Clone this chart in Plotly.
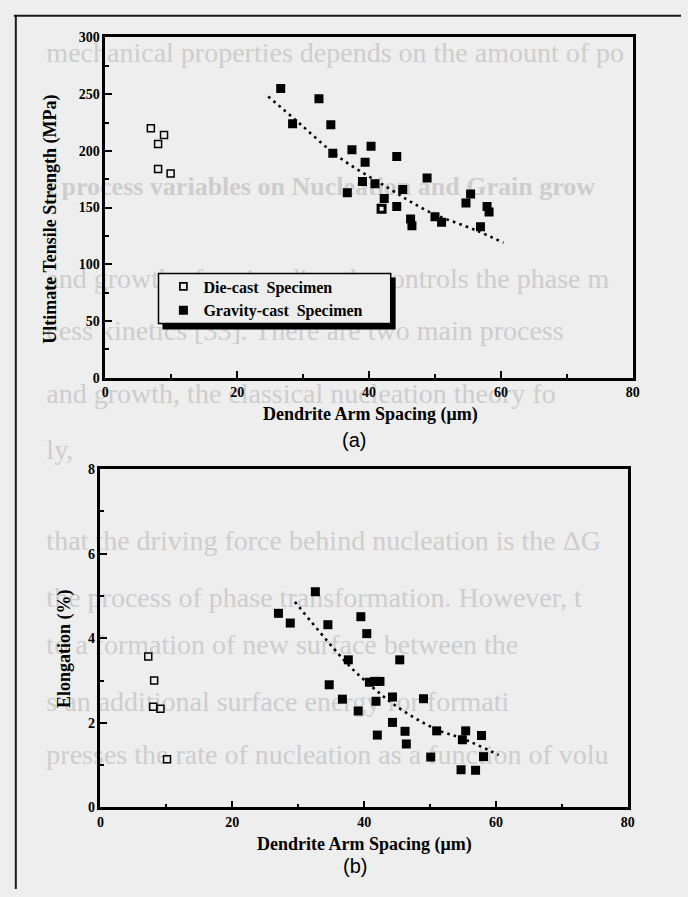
import plotly.graph_objects as go

W, H = 688, 897

# ---- (a) Ultimate tensile strength vs dendrite arm spacing ----
die_das_a = [6.9, 8.9, 8.0, 8.0, 9.9, 41.9]
die_uts = [220, 214, 206, 184, 180, 149]
die_edge_a = [1.5, 1.5, 1.5, 1.5, 1.5, 3.0]

grav_das_a = [26.6, 28.4, 32.4, 34.2, 34.5, 37.4, 40.3, 39.4, 44.2, 39.0, 40.9, 36.7, 42.3,
              45.1, 44.2, 48.8, 46.3, 46.5, 50.0, 51.0, 55.4, 54.7, 57.9, 58.2, 56.9]
grav_uts = [255, 224, 246, 223, 198, 201, 204, 190, 195, 173, 171, 163, 158,
            166, 151, 176, 140, 134, 142, 137, 162, 154, 151, 146, 133]

fit_das_a = [24.7, 29.3, 35.3, 42.7, 49.2, 56.2, 60.4]
fit_uts = [248, 225, 195, 168, 146, 130, 119]

# ---- (b) Elongation vs dendrite arm spacing ----
die_das_b = [7.25, 8.15, 8.0, 9.1, 10.1]
die_elong = [3.57, 3.0, 2.38, 2.33, 1.14]

grav_das_b = [27.0, 28.8, 32.6, 34.5, 39.5, 40.4, 37.6, 45.4, 34.7, 40.8, 41.6, 42.4, 36.7, 41.8,
              44.3, 49.0, 39.1, 44.3, 46.2, 42.0, 46.4, 51.0, 55.4, 54.9, 57.8, 50.1, 58.1, 54.7, 56.9]
grav_elong = [4.59, 4.36, 5.10, 4.32, 4.51, 4.11, 3.49, 3.49, 2.90, 2.96, 2.98, 2.98, 2.56, 2.51,
              2.61, 2.57, 2.28, 2.01, 1.80, 1.71, 1.50, 1.81, 1.81, 1.60, 1.70, 1.19, 1.20, 0.89, 0.88]

fit_das_b = [29.5, 37.5, 41.0, 45.0, 51.0, 54.9, 60.4]
fit_elong = [4.86, 3.39, 2.88, 2.38, 1.84, 1.63, 1.24]

x_ticks = [0, 20, 40, 60, 80]
uts_ticks = [0, 50, 100, 150, 200, 250, 300]
elong_ticks = [0, 2, 4, 6, 8]

# faint text from the facing page showing through the scan: (y, text, bold, size)
page_lines = [
    (43, "mechanical properties depends on the amount of po", False, 28),
    (180, "t process variables on Nucleation and Grain grow", True, 26),
    (273, "and growth of grains directly controls the phase m", False, 28),
    (326, "cess kinetics [33]. There are two main process", False, 28),
    (390, "and growth, the classical nucleation theory fo", False, 28),
    (447, "ly,", False, 28),
    (540, "that the driving force behind nucleation is the \u0394G", False, 28),
    (597, "the process of phase transformation. However, t", False, 28),
    (645, "to a formation of new surface between the", False, 28),
    (703, "s an additional surface energy for formati", False, 28),
    (757, "presses the rate of nucleation as a function of volu", False, 28),
]

SERIF = "Liberation Serif, Times New Roman, serif"
BG = "#eeeeee"


def px(x):
    return x / W


def py(y):
    return 1 - y / H


fig = go.Figure()

# panel (a)
fig.add_trace(go.Scatter(x=fit_das_a, y=fit_uts, mode="lines", line_shape="spline",
                         line=dict(color="black", width=2.6, dash="2.6px,4.2px"),
                         showlegend=False, xaxis="x", yaxis="y", hoverinfo="skip"))
fig.add_trace(go.Scatter(x=die_das_a, y=die_uts, mode="markers", name="Die-cast  Specimen",
                         marker=dict(symbol="square-open", size=7, color="black",
                                     line=dict(color="black", width=die_edge_a)),
                         xaxis="x", yaxis="y"))
fig.add_trace(go.Scatter(x=grav_das_a, y=grav_uts, mode="markers", name="Gravity-cast  Specimen",
                         marker=dict(symbol="square", size=9, color="black", line=dict(width=0)),
                         xaxis="x", yaxis="y"))

# panel (b)
fig.add_trace(go.Scatter(x=fit_das_b, y=fit_elong, mode="lines", line_shape="spline",
                         line=dict(color="black", width=2.6, dash="2.6px,4.2px"),
                         showlegend=False, xaxis="x2", yaxis="y2", hoverinfo="skip"))
fig.add_trace(go.Scatter(x=die_das_b, y=die_elong, mode="markers", showlegend=False,
                         marker=dict(symbol="square-open", size=7, color="black",
                                     line=dict(color="black", width=1.5)),
                         xaxis="x2", yaxis="y2"))
fig.add_trace(go.Scatter(x=grav_das_b, y=grav_elong, mode="markers", showlegend=False,
                         marker=dict(symbol="square", size=9, color="black", line=dict(width=0)),
                         xaxis="x2", yaxis="y2"))

tick_font = dict(family=SERIF, size=14, color="black", weight="bold")


def axis_style(**kw):
    base = dict(showline=True, mirror=True, linecolor="black", linewidth=2.5,
                ticks="inside", ticklen=7, tickwidth=2, tickcolor="black",
                showgrid=False, zeroline=False, tickfont=tick_font, fixedrange=True)
    base.update(kw)
    return base


fig.update_layout(
    width=W, height=H,
    margin=dict(l=0, r=0, t=0, b=0),
    paper_bgcolor=BG, plot_bgcolor="rgba(0,0,0,0)",
    xaxis=axis_style(domain=[px(103), px(639)], range=[0, 80], tickvals=x_ticks,
                     minor=dict(dtick=10, ticks="inside", ticklen=4, tickwidth=1.5, tickcolor="black"),
                     anchor="y"),
    yaxis=axis_style(domain=[py(377), py(31)], range=[0, 300], tickvals=uts_ticks,
                     minor=dict(dtick=25, ticks="inside", ticklen=4, tickwidth=1.5, tickcolor="black"),
                     anchor="x"),
    xaxis2=axis_style(domain=[px(98), px(634)], range=[0, 80], tickvals=x_ticks,
                      minor=dict(dtick=10, ticks="inside", ticklen=4, tickwidth=1.5, tickcolor="black"),
                      anchor="y2"),
    yaxis2=axis_style(domain=[py(814), py(470)], range=[0, 8], tickvals=elong_ticks,
                      minor=dict(dtick=1, ticks="inside", ticklen=4, tickwidth=1.5, tickcolor="black"),
                      anchor="x2"),
    legend=dict(x=px(162), y=py(267), xanchor="left", yanchor="top",
                bgcolor="rgba(0,0,0,0)", borderwidth=0,
                font=dict(family=SERIF, size=16, color="black", weight="bold"),
                tracegroupgap=0, itemclick=False, itemdoubleclick=False),
    showlegend=True,
)

shapes = []
for y, text, bold, size in page_lines:
    shapes.append(dict(type="rect", xref="paper", yref="paper", layer="below",
                       x0=px(40), x1=px(1400), y0=py(y + 16), y1=py(y - 16),
                       line=dict(width=0), fillcolor="rgba(0,0,0,0)",
                       label=dict(text=f"<b>{text}</b>" if bold else text,
                                  textposition="middle left", padding=0,
                                  font=dict(family=SERIF, size=size, color="#cdcdcd"))))

# scan frame edges
shapes.append(dict(type="line", xref="paper", yref="paper", x0=px(10), x1=px(688),
                   y0=py(9), y1=py(9), line=dict(color="#1a1a1a", width=2)))
shapes.append(dict(type="line", xref="paper", yref="paper", x0=px(12), x1=px(12),
                   y0=py(9), y1=py(897), line=dict(color="#1a1a1a", width=2)))

# legend box with drop shadow
shapes.append(dict(type="rect", xref="paper", yref="paper", x0=px(161), x1=px(398),
                   y0=py(328), y1=py(275), line=dict(width=0), fillcolor="black"))
shapes.append(dict(type="rect", xref="paper", yref="paper", x0=px(157), x1=px(393),
                   y0=py(322), y1=py(271), line=dict(color="black", width=1.5),
                   fillcolor=BG))

fig.update_layout(shapes=shapes)

title_font = dict(family=SERIF, size=18, color="black", weight="bold")
annotations = [
    dict(text="Ultimate Tensile Strength (MPa)", x=px(47), y=py(216), textangle=-90),
    dict(text="Dendrite Arm Spacing (\u03bcm)", x=px(372), y=py(414)),
    dict(text="Elongation (%)", x=px(61), y=py(653), textangle=-90),
    dict(text="Dendrite Arm Spacing (\u03bcm)", x=px(366), y=py(852)),
]
for a in annotations:
    a.update(xref="paper", yref="paper", showarrow=False, font=title_font,
             xanchor="center", yanchor="middle")
annotations.append(dict(text="(a)", x=px(356), y=py(440), xref="paper", yref="paper",
                        showarrow=False, xanchor="center", yanchor="middle",
                        font=dict(family="Liberation Sans, Arial, sans-serif", size=20, color="black")))
annotations.append(dict(text="(b)", x=px(357), y=py(874), xref="paper", yref="paper",
                        showarrow=False, xanchor="center", yanchor="middle",
                        font=dict(family="Liberation Sans, Arial, sans-serif", size=20, color="black")))
fig.update_layout(annotations=annotations)

fig.write_html("out.html")
